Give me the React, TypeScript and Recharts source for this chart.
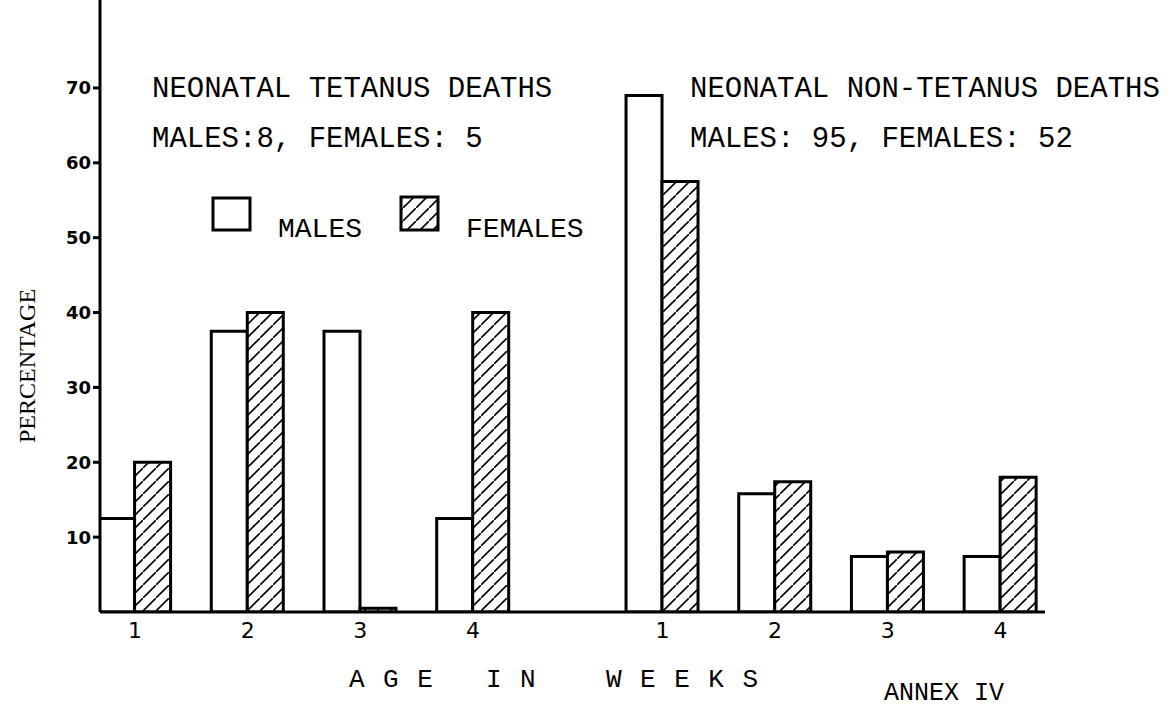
import { BarChart, Bar, XAxis, YAxis } from "recharts";

// Weeks of age shown under each group of bars
const WEEKS = ["1", "2", "3", "4"];

// Percentages
const TETANUS_MALES = [12.5, 37.5, 37.5, 12.5];
const TETANUS_FEMALES = [20, 40, 0.5, 40];
const NON_TETANUS_MALES = [69, 15.8, 7.4, 7.4];
const NON_TETANUS_FEMALES = [57.5, 17.4, 8, 18];

const Y_TICKS = [10, 20, 30, 40, 50, 60, 70];

const TITLES = ["NEONATAL TETANUS DEATHS", "NEONATAL NON-TETANUS DEATHS"];
const COUNTS = ["MALES:8, FEMALES: 5", "MALES: 95, FEMALES: 52"];

// extra empty space (in week slots) between the two groups
const GROUP_GAP = 0.68;

const rows = [
  ...WEEKS.map((w, i) => ({
    slot: i + 1,
    week: w,
    males: TETANUS_MALES[i],
    females: TETANUS_FEMALES[i],
  })),
  ...WEEKS.map((w, i) => ({
    slot: WEEKS.length + GROUP_GAP + i + 1,
    week: w,
    males: NON_TETANUS_MALES[i],
    females: NON_TETANUS_FEMALES[i],
  })),
];

const MONO = "'Liberation Mono', 'Courier New', monospace";
const SERIF = "'Liberation Serif', 'Times New Roman', serif";

function Hatch({ id }: { id: string }) {
  return (
    <pattern id={id} patternUnits="userSpaceOnUse" width={13} height={13}>
      <rect width={13} height={13} fill="#fff" />
      <path d="M-2,15 L15,-2" stroke="#000" strokeWidth={1.6} />
    </pattern>
  );
}

export default function App() {
  return (
    <div
      style={{
        position: "absolute",
        left: 0,
        top: 0,
        width: 1168,
        height: 707,
        background: "#fff",
      }}
    >
      <BarChart
        width={1168}
        height={707}
        data={rows}
        margin={{ top: 0, right: 123, bottom: 65, left: 40 }}
        barGap={0}
        barSize={36}
      >
        <defs>
          <Hatch id="hatch" />
        </defs>
        <XAxis
          type="number"
          dataKey="slot"
          domain={[0.69, 9.075]}
          allowDataOverflow
          ticks={rows.map((r) => r.slot)}
          tickFormatter={(_v: number, i: number) => rows[i]?.week ?? ""}
          axisLine={{ stroke: "#000", strokeWidth: 3 }}
          tickLine={false}
          tickMargin={4}
          height={30}
          tick={{ fill: "#000", fontSize: 22, fontFamily: "DejaVu Sans" }}
        />
        <YAxis
          domain={[0, 81.75]}
          allowDataOverflow
          ticks={Y_TICKS}
          width={60}
          tickSize={7}
          axisLine={{ stroke: "#000", strokeWidth: 3 }}
          tickLine={{ stroke: "#000", strokeWidth: 3 }}
          tick={{
            fill: "#000",
            fontSize: 18,
            fontWeight: "bold",
            fontFamily: "DejaVu Sans",
          }}
        />
        <Bar
          dataKey="males"
          fill="#fff"
          stroke="#000"
          strokeWidth={3}
          isAnimationActive={false}
        />
        <Bar
          dataKey="females"
          fill="url(#hatch)"
          stroke="#000"
          strokeWidth={3}
          isAnimationActive={false}
        />
      </BarChart>

      {/* annotations drawn on top of the chart */}
      <svg
        width={1168}
        height={707}
        style={{ position: "absolute", left: 0, top: 0, pointerEvents: "none" }}
      >
        <defs>
          <Hatch id="hatchLegend" />
        </defs>
        <g fontFamily={MONO} fontSize={29} fill="#000">
          <text x={152} y={97}>{TITLES[0]}</text>
          <text x={152} y={147}>{COUNTS[0]}</text>
          <text x={690} y={97}>{TITLES[1]}</text>
          <text x={690} y={147}>{COUNTS[1]}</text>
        </g>

        <rect x={213} y={198} width={37} height={32} fill="#fff" stroke="#000" strokeWidth={3} />
        <rect x={401} y={197} width={37} height={33} fill="url(#hatchLegend)" stroke="#000" strokeWidth={3} />
        <g fontFamily={MONO} fontSize={28} fill="#000">
          <text x={278} y={237}>MALES</text>
          <text x={466} y={237}>FEMALES</text>
        </g>

        <text
          transform="translate(35,366) rotate(-90)"
          textAnchor="middle"
          fontFamily={SERIF}
          fontSize={24}
          fill="#000"
        >
          PERCENTAGE
        </text>

        <g fontFamily={MONO} fontSize={26} fill="#000" letterSpacing={18.5}>
          <text x={349} y={687}>AGE</text>
          <text x={486} y={687}>IN</text>
          <text x={606} y={687}>WEEKS</text>
        </g>
        <text x={884} y={700} fontFamily={MONO} fontSize={25} fill="#000">
          ANNEX IV
        </text>
      </svg>
    </div>
  );
}
